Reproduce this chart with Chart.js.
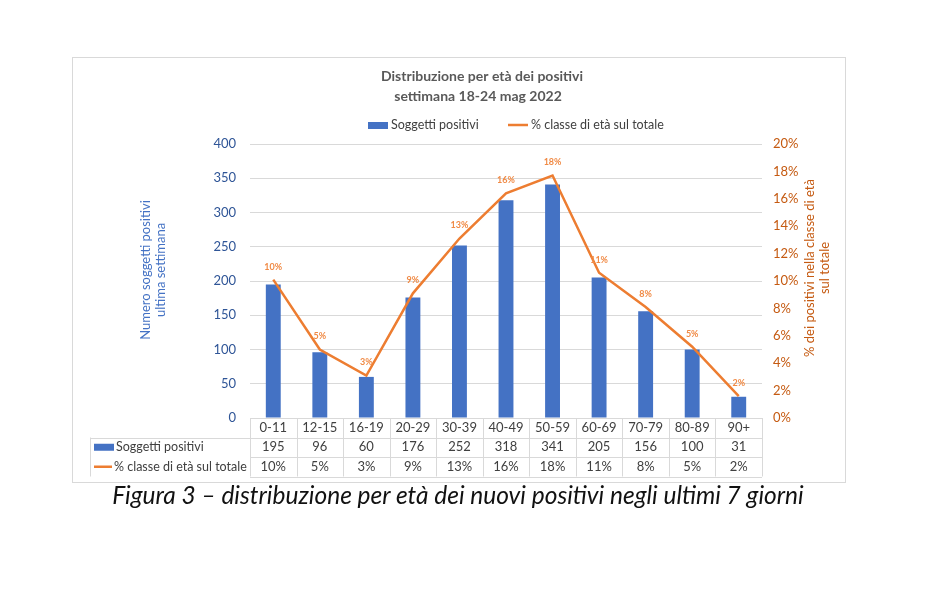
<!DOCTYPE html>
<html>
<head>
<meta charset="utf-8">
<script src="https://cdn.jsdelivr.net/npm/chart.js@4.4.1/dist/chart.umd.min.js"></script>
<style>
  body { margin: 0; background: #fff; }
  #wrap { position: relative; width: 932px; height: 594px; }
  #caption {
    position: absolute; left: 0; top: 480px; width: 916px;
    text-align: center; font-family: Lato, sans-serif; font-style: italic;
    font-size: 24.5px; color: #111;
  }
</style>
</head>
<body>
<div id="wrap">
  <canvas id="myChart"></canvas>
  <div id="caption">Figura 3 – distribuzione per età dei nuovi positivi negli ultimi 7 giorni</div>
</div>
<script>
const ageGroups = ['0-11', '12-15', '16-19', '20-29', '30-39', '40-49', '50-59', '60-69', '70-79', '80-89', '90+'];
const positives = [195, 96, 60, 176, 252, 318, 341, 205, 156, 100, 31];
const sharePct = [10.1, 5.0, 3.1, 9.1, 13.1, 16.4, 17.7, 10.6, 8.1, 5.2, 1.6];
const barLabel = 'Soggetti positivi';
const lineLabel = '% classe di età sul totale';

const BLUE = '#4472C4';
const ORANGE = '#ED7D31';
const DARK_ORANGE = '#C55A11';
const GRID = '#D9D9D9';
const TEXT = '#404040';
const FONT = 'Lato, "Open Sans", sans-serif';

// frame, titles, legend, axis titles, data labels and data table
const extras = {
  id: 'extras',
  beforeDraw(chart) {
    const c = chart.ctx;
    c.save();
    c.fillStyle = '#fff';
    c.fillRect(0, 0, chart.width, chart.height);
    c.strokeStyle = GRID;
    c.lineWidth = 1;
    c.strokeRect(72.5, 57.5, 773, 425);
    c.restore();
  },
  afterDatasetsDraw(chart) {
    const c = chart.ctx;
    const area = chart.chartArea;
    const x = chart.scales.x;
    c.save();

    // title
    c.fillStyle = '#595959';
    c.font = 'bold 14px ' + FONT;
    c.textAlign = 'center';
    c.textBaseline = 'middle';
    c.fillText('Distribuzione per età dei positivi', 482, 76);
    c.fillText('settimana 18-24 mag 2022', 478, 96);

    // legend
    c.font = '12.5px ' + FONT;
    c.textAlign = 'left';
    c.fillStyle = BLUE;
    c.fillRect(368, 122, 20, 7);
    c.fillStyle = TEXT;
    c.fillText(barLabel, 391, 125);
    c.strokeStyle = ORANGE;
    c.lineWidth = 2.5;
    c.beginPath(); c.moveTo(508, 125); c.lineTo(528, 125); c.stroke();
    c.fillText(lineLabel, 531, 125);

    // axis titles
    c.font = '13px ' + FONT;
    c.textAlign = 'center';
    c.save();
    c.translate(153, 270);
    c.rotate(-Math.PI / 2);
    c.fillStyle = BLUE;
    c.fillText('Numero soggetti positivi', 0, -7);
    c.fillText('ultima settimana', 0, 8);
    c.restore();
    c.save();
    c.translate(817, 268);
    c.rotate(-Math.PI / 2);
    c.fillStyle = DARK_ORANGE;
    c.fillText('% dei positivi nella classe di età', 0, -7);
    c.fillText('sul totale', 0, 8);
    c.restore();

    // data labels on the line
    const meta = chart.getDatasetMeta(1);
    c.font = 'bold 9px ' + FONT;
    c.fillStyle = '#F08A45';
    meta.data.forEach((pt, i) => {
      c.fillText(Math.round(sharePct[i]) + '%', pt.x, pt.y - 13);
    });

    // data table
    const top = area.bottom;
    const rowH = 19.5;
    const tLeft = 90;
    const step = (area.right - area.left) / ageGroups.length;
    c.strokeStyle = GRID;
    c.lineWidth = 1;
    c.beginPath();
    for (let r = 1; r <= 3; r++) {
      const y = Math.round(top + r * rowH) + 0.5;
      c.moveTo(r === 1 ? tLeft : area.left, y);
      c.lineTo(area.right, y);
    }
    c.moveTo(tLeft + 0.5, top + rowH);
    c.lineTo(tLeft + 0.5, top + 3 * rowH);
    for (let i = 0; i <= ageGroups.length; i++) {
      const xx = Math.round(area.left + i * step) + 0.5;
      c.moveTo(xx, top);
      c.lineTo(xx, top + 3 * rowH);
    }
    c.stroke();

    c.font = '13px ' + FONT;
    c.fillStyle = TEXT;
    c.textAlign = 'center';
    ageGroups.forEach((g, i) => {
      const cx = x.getPixelForValue(i);
      c.fillText(g, cx, top + rowH * 0.5);
      c.fillText(String(positives[i]), cx, top + rowH * 1.5);
      c.fillText(Math.round(sharePct[i]) + '%', cx, top + rowH * 2.5);
    });
    c.font = '12.5px ' + FONT;
    c.textAlign = 'left';
    c.fillStyle = BLUE;
    c.fillRect(94, top + rowH * 1.5 - 3.5, 20, 7);
    c.fillStyle = TEXT;
    c.fillText(barLabel, 116, top + rowH * 1.5);
    c.strokeStyle = ORANGE;
    c.lineWidth = 2.5;
    c.beginPath();
    c.moveTo(94, top + rowH * 2.5); c.lineTo(112, top + rowH * 2.5);
    c.stroke();
    c.fillText(lineLabel, 114, top + rowH * 2.5);
    c.restore();
  }
};

const ctx = document.getElementById('myChart').getContext('2d');
new Chart(ctx, {
  type: 'bar',
  data: {
    labels: ageGroups,
    datasets: [{
      label: barLabel,
      data: positives,
      backgroundColor: BLUE,
      barPercentage: 0.32,
      categoryPercentage: 1,
      yAxisID: 'y',
      order: 2
    }, {
      type: 'line',
      label: lineLabel,
      data: sharePct,
      borderColor: ORANGE,
      borderWidth: 2.5,
      pointRadius: 0,
      tension: 0,
      yAxisID: 'y1',
      order: 1
    }]
  },
  options: {
    responsive: true,
    maintainAspectRatio: false,
    animation: false,
    layout: { padding: { top: 144, bottom: 176, left: 0, right: 0 } },
    plugins: {
      legend: { display: false },
      title: { display: false },
      tooltip: { enabled: false }
    },
    scales: {
      x: { display: false },
      y: {
        position: 'left',
        min: 0, max: 400,
        ticks: { stepSize: 50, padding: 14, color: '#2F5597', font: { family: FONT, size: 13 } },
        grid: { color: GRID, drawTicks: false },
        border: { display: false },
        afterFit(s) { s.width = 250; }
      },
      y1: {
        position: 'right',
        min: 0, max: 20,
        ticks: { stepSize: 2, padding: 11, color: DARK_ORANGE, font: { family: FONT, size: 13 },
                 callback: v => v + '%' },
        grid: { display: false, drawTicks: false },
        border: { display: false },
        afterFit(s) { s.width = 170; }
      }
    }
  },
  plugins: [extras]
});
</script>
</body>
</html>
